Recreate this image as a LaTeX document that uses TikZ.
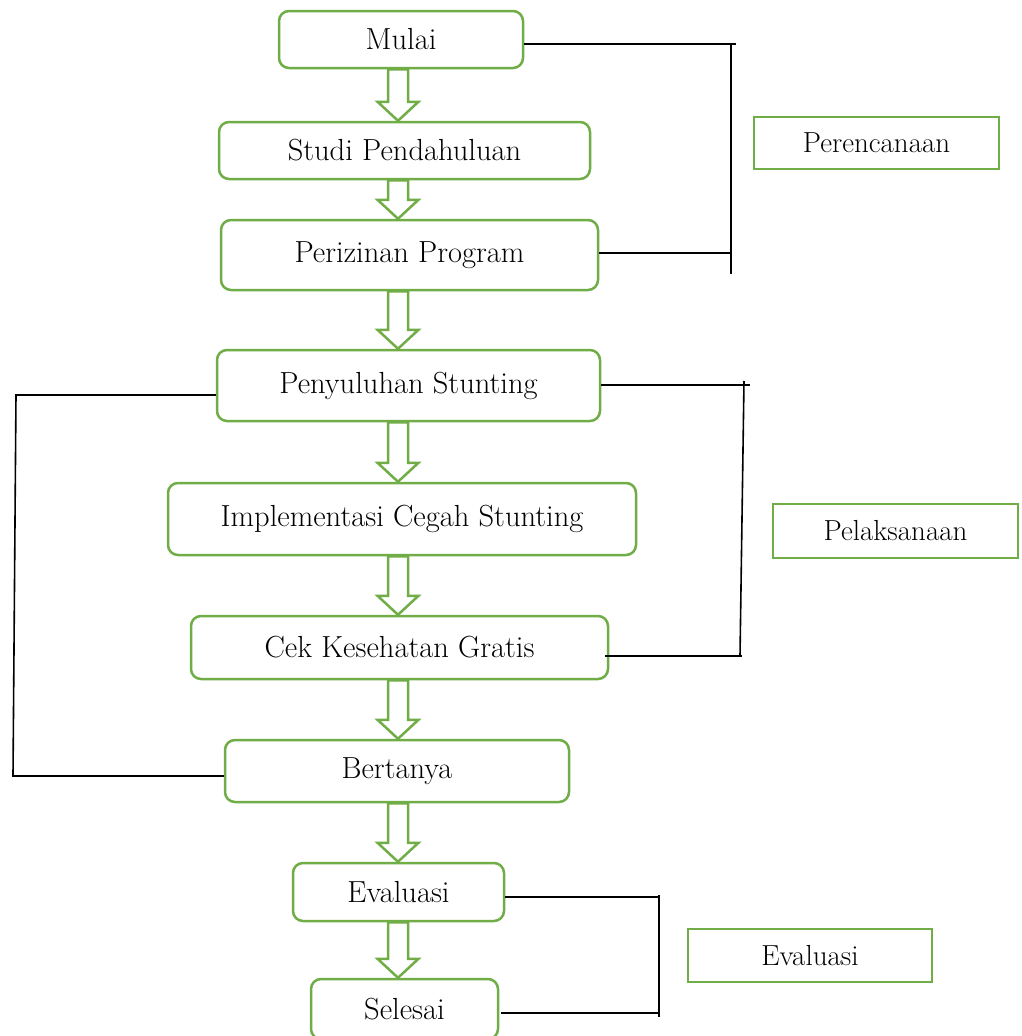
\documentclass[tikz,border=0pt]{standalone}
\usepackage{xcolor}
\usetikzlibrary{calc}
\definecolor{stepgreen}{HTML}{70AD47}

\begin{document}
\begin{tikzpicture}[x=1pt, y=-1pt,
      type-step/.style={rectangle, rounded corners=10pt, draw=stepgreen, line width=2.5pt, fill=white, font=\fontsize{30.5}{36}\selectfont, inner sep=0pt},
      type-phase/.style={rectangle, draw=stepgreen, line width=2.5pt, fill=white, font=\fontsize{29}{35}\selectfont, inner sep=0pt},
      type-arrow/.style={draw=stepgreen, line width=2.5pt, fill=white, line join=miter},
      type-line/.style={draw=black, line width=1.6pt}
    ]
      \useasboundingbox (0,0) rectangle (1021,1036);
      \node[type-step, minimum width=244pt, minimum height=57pt] (mulai) at (401,39.5) {Mulai};
      \node[type-step, minimum width=371pt, minimum height=57pt] (studi) at (404.5,150.5) {Studi Pendahuluan};
      \node[type-step, minimum width=377pt, minimum height=70pt] (perizinan) at (409.5,255) {Perizinan Program};
      \node[type-step, minimum width=383pt, minimum height=71pt] (penyuluhan) at (408.5,385.5) {Penyuluhan Stunting};
      \node[type-step, minimum width=468pt, minimum height=72pt] (implementasi) at (402,519) {Implementasi Cegah Stunting};
      \node[type-step, minimum width=417pt, minimum height=63pt] (cek) at (399.5,647.5) {Cek Kesehatan Gratis};
      \node[type-step, minimum width=344pt, minimum height=62pt] (bertanya) at (397,771) {Bertanya};
      \node[type-step, minimum width=211pt, minimum height=58pt] (evaluasi) at (398.5,892) {Evaluasi};
      \node[type-step, minimum width=187pt, minimum height=60pt] (selesai) at (404.5,1009) {Selesai};

      \node[type-phase, minimum width=245pt, minimum height=52pt] (perencanaan) at (876.5,143) {Perencanaan};
      \node[type-phase, minimum width=245pt, minimum height=54pt] (pelaksanaan) at (895.5,531) {Pelaksanaan};
      \node[type-phase, minimum width=244pt, minimum height=53pt] (evaluasi-phase) at (810,955.5) {Evaluasi};

      \coordinate (axis) at (398,0);
      \foreach \a/\b in {mulai/studi, studi/perizinan, perizinan/penyuluhan, penyuluhan/implementasi,
                         implementasi/cek, cek/bertanya, bertanya/evaluasi, evaluasi/selesai} {
        \draw[type-arrow] let \p1=(\a.south), \p2=(\b.north), \p3=(axis) in
          (\x3-10pt,\y1) -- (\x3-10pt,\y2+19pt) -- (\x3-20.5pt,\y2+19pt) -- (\x3,\y2)
          -- (\x3+20.5pt,\y2+19pt) -- (\x3+10pt,\y2+19pt) -- (\x3+10pt,\y1) -- cycle;
      }

      \coordinate (ren-a) at (736,44);
      \coordinate (ren-b) at (731,44);
      \coordinate (ren-c) at (731,274);
      \coordinate (ren-d) at (731,253);
      \draw[type-line] (mulai.east |- ren-a) -- (ren-a);
      \draw[type-line] (ren-b) -- (ren-c);
      \draw[type-line] (perizinan.east |- ren-d) -- (ren-d);

      \coordinate (lak-a) at (750,385);
      \coordinate (lak-b) at (744,381);
      \coordinate (lak-c) at (740,656);
      \coordinate (lak-d) at (742,656);
      \draw[type-line] (penyuluhan.east |- lak-a) -- (lak-a);
      \draw[type-line] (lak-b) -- (lak-c);
      \draw[type-line, line width=2.6pt] ([xshift=-4pt]cek.east |- lak-d) -- (lak-d);

      \coordinate (kiri-a) at (16,395);
      \coordinate (kiri-b) at (13,776);
      \draw[type-line] (penyuluhan.west |- kiri-a) -- (kiri-a) -- (kiri-b) -- (bertanya.west |- kiri-b);

      \coordinate (eva-a) at (660,897);
      \coordinate (eva-b) at (659,895);
      \coordinate (eva-c) at (659,1017);
      \coordinate (eva-d) at (659,1013);
      \draw[type-line] (evaluasi.east |- eva-a) -- (eva-a);
      \draw[type-line] (eva-b) -- (eva-c);
      \draw[type-line] ([xshift=2pt]selesai.east |- eva-d) -- (eva-d);
    \end{tikzpicture}
\end{document}
